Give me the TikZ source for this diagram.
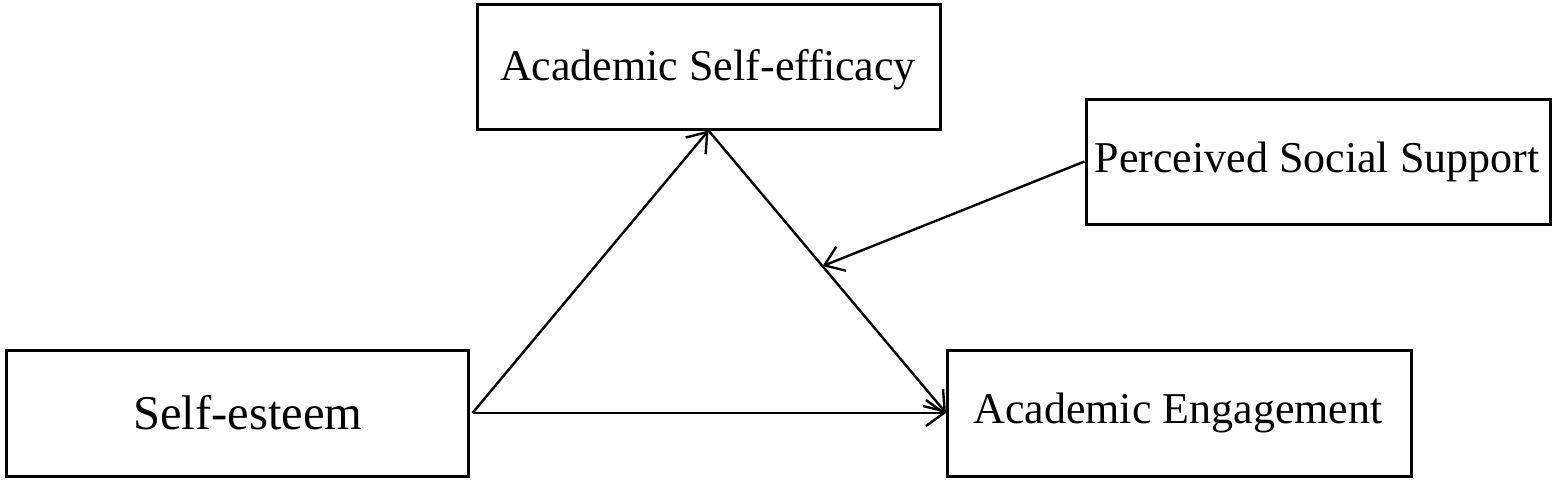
\documentclass[tikz,border=0pt]{standalone}
\usepackage{fontspec}
\setmainfont{Liberation Serif}
\usetikzlibrary{arrows.meta}
\begin{document}
\begin{tikzpicture}[x=0.5pt,y=-0.5pt,
  box/.style={draw,line width=1.5pt,inner sep=0pt,minimum width=#1},
  box/.default=231pt,
  lbl/.style={inner sep=0pt,font=\fontsize{22}{26}\selectfont},
  conn/.style={line width=1.2pt,-{Straight Barb[length=9pt,width=13pt,line width=1.2pt]}}]
\useasboundingbox (0,0) rectangle (1559,483);
\node[box=231.5pt,minimum height=62.5pt] (ase) at (708.5,66.5) {};
\node[box=232pt,minimum height=62.5pt] (pss) at (1318,161.5) {};
\node[box=231pt,minimum height=63pt] (se) at (237,413) {};
\node[box=232pt,minimum height=63pt] (ae) at (1179.5,413) {};
\node[lbl] (asel) at (708,70) {Academic Self-efficacy};
\node[lbl] (pssl) at (1317,162) {Perceived Social Support};
\node[lbl,font=\fontsize{24.3}{28}\selectfont] (sel) at (248,413) {Self-esteem};
\node[lbl] (ael) at (1178,413) {Academic Engagement};
\coordinate (sestart) at ([xshift=1.5pt]se.east);
\draw[conn] (sestart) -- (ase.south);
\draw[conn] (sestart) -- (ae.west);
\draw[conn] (ase.south) -- (ae.west) coordinate[pos=0.48] (m);
\draw[conn] (pss.west) -- (m);
\end{tikzpicture}
\end{document}
